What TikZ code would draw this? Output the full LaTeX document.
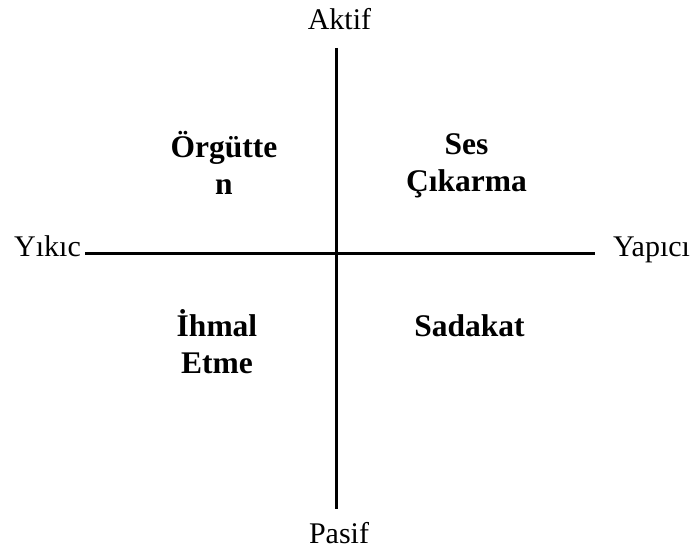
\documentclass[tikz,border=0pt]{standalone}
\usepackage{fontspec}
\setmainfont{Liberation Serif}
\begin{document}
\begin{tikzpicture}[x=1pt,y=-1pt,
  axis/.style={line width=3pt},
  axlabel/.style={inner sep=0pt,anchor=base,font=\fontsize{30}{36}\selectfont},
  quad/.style={inner sep=0pt,anchor=base,align=center,font=\fontsize{31.5}{37}\selectfont\bfseries}]
\useasboundingbox (0,0) rectangle (694,551);
\coordinate (top) at (336,48);
\coordinate (bot) at (336,509);
\coordinate (lft) at (85,253);
\coordinate (rgt) at (595,253);
\draw[axis] (top) -- (bot);
\draw[axis] (lft) -- (rgt);
\node[axlabel] (aktif) at (339.5,29.3) {Aktif};
\node[axlabel] (pasif) at (339,543) {Pasif};
\node[axlabel] (yikic) at (47.5,256.7) {Yıkıc};
\node[axlabel] (yapici) at (651.5,256.7) {Yapıcı};
\node[quad] (orgut) at (224,194) {Örgütte\\n};
\node[quad] (ses) at (466.5,191) {Ses\\Çıkarma};
\node[quad] (ihmal) at (217,373) {İhmal\\Etme};
\node[quad] (sadakat) at (469.5,336.7) {Sadakat};
\end{tikzpicture}
\end{document}
